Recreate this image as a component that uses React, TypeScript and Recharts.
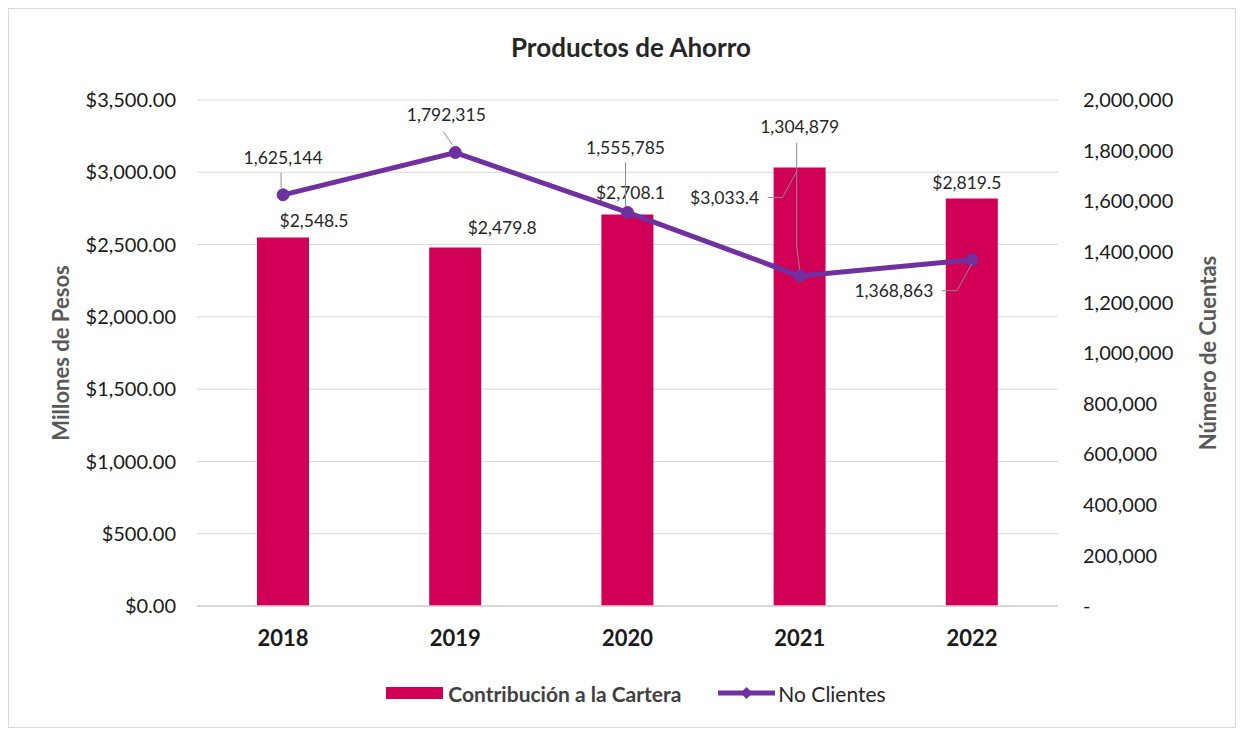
import React from 'react';
import { ComposedChart, Bar, Line, XAxis, YAxis, CartesianGrid, Legend, LabelList } from 'recharts';

const years = ['2018', '2019', '2020', '2021', '2022'];
const contribucion = [2548.5, 2479.8, 2708.1, 3033.4, 2819.5];
const clientes = [1625144, 1792315, 1555785, 1304879, 1368863];
const leftTicks = [0, 500, 1000, 1500, 2000, 2500, 3000, 3500];
const rightTicks = [0, 200000, 400000, 600000, 800000, 1000000, 1200000, 1400000, 1600000, 1800000, 2000000];

const data = years.map((y, i) => ({ year: y, contribucion: contribucion[i], clientes: clientes[i] }));

const FONT = 'Lato, "Open Sans", sans-serif';
const BAR_COLOR = '#D10056';
const LINE_COLOR = '#7030A0';
const LABEL_COLOR = '#262626';
const LABEL_SIZE = 17.5;

// label placement styling (offsets relative to the mark anchor) and leader lines
const barLabelStyle = [
  { dx: 31, dy: -17, leader: null },
  { dx: 47, dy: -20, leader: null },
  { dx: 3, dy: -22, leader: null },
  { dx: -75, dy: 30, leader: [[-32, 30], [-17, 30], [-3, 4]] },
  { dx: -5, dy: -16, leader: null },
];
const lineLabelStyle = [
  { dx: 0, dy: -37, leader: [[-2, -22], [-2, -7]] },
  { dx: -9, dy: -38, leader: [[-12, -21], [-3, -8]] },
  { dx: -2, dy: -65, leader: [[-2, -50], [-2, -6]] },
  { dx: 0, dy: -149, leader: [[-3, -133], [-3, -29], [0, -6]] },
  { dx: -78, dy: 31, leader: [[-30, 31], [-15, 31], [0, 4]] },
];

const fmtMoney = (v: number) => '$' + v.toLocaleString('en-US', { minimumFractionDigits: 2, maximumFractionDigits: 2 });
const fmtMoney1 = (v: number) => '$' + v.toLocaleString('en-US', { minimumFractionDigits: 1, maximumFractionDigits: 1 });
const fmtCount = (v: number) => (v === 0 ? '-' : v.toLocaleString('en-US'));

const renderLeader = (ax: number, ay: number, pts: number[][] | null) => {
  if (!pts) return null;
  const d = pts.map((p, i) => `${i === 0 ? 'M' : 'L'}${ax + p[0]},${ay + p[1]}`).join(' ');
  return <path d={d} stroke="#8c8c8c" strokeWidth={1} fill="none" />;
};

const BarLabel = (props: any) => {
  const { x, y, width, value, index } = props;
  const s = barLabelStyle[index];
  const ax = x + width / 2;
  const ay = y;
  return (
    <g>
      {renderLeader(ax, ay, s.leader)}
      <text x={ax + s.dx} y={ay + s.dy} textAnchor="middle" dominantBaseline="central" fontFamily={FONT} fontSize={LABEL_SIZE} fill={LABEL_COLOR}>
        {fmtMoney1(value)}
      </text>
    </g>
  );
};

const LineLabel = (props: any) => {
  const { x, y, value, index } = props;
  const s = lineLabelStyle[index];
  return (
    <g>
      {renderLeader(x, y, s.leader)}
      <text x={x + s.dx} y={y + s.dy} textAnchor="middle" dominantBaseline="central" fontFamily={FONT} fontSize={LABEL_SIZE} fill={LABEL_COLOR}>
        {fmtCount(value)}
      </text>
    </g>
  );
};

const LeftAxisTitle = (props: any) => {
  const { viewBox } = props;
  const cx = viewBox.x + 41;
  const cy = viewBox.y + viewBox.height / 2;
  return (
    <text x={cx} y={cy} transform={`rotate(-90, ${cx}, ${cy})`} textAnchor="middle" dominantBaseline="central" fontFamily={FONT} fontSize={22} fontWeight="bold" fill="#595959">
      Millones de Pesos
    </text>
  );
};

const RightAxisTitle = (props: any) => {
  const { viewBox } = props;
  const cx = viewBox.x + 149;
  const cy = viewBox.y + viewBox.height / 2;
  return (
    <text x={cx} y={cy} transform={`rotate(-90, ${cx}, ${cy})`} textAnchor="middle" dominantBaseline="central" fontFamily={FONT} fontSize={22} fontWeight="bold" fill="#595959">
      Número de Cuentas
    </text>
  );
};

const LegendContent = () => (
  <div style={{ display: 'flex', justifyContent: 'center', alignItems: 'center', height: 24, fontFamily: FONT, fontSize: 21, paddingLeft: 28 }}>
    <div style={{ display: 'flex', alignItems: 'center', marginRight: 37 }}>
      <svg width={57} height={14} style={{ marginRight: 5 }}>
        <rect x={0} y={1} width={57} height={12} fill={BAR_COLOR} />
      </svg>
      <span style={{ fontWeight: 'bold', color: '#404040' }}>Contribución a la Cartera</span>
    </div>
    <div style={{ display: 'flex', alignItems: 'center' }}>
      <svg width={57} height={14} style={{ marginRight: 3 }}>
        <line x1={0} y1={7} x2={57} y2={7} stroke={LINE_COLOR} strokeWidth={5} />
        <path d="M28.5,1 L34.5,7 L28.5,13 L22.5,7 Z" fill={LINE_COLOR} />
      </svg>
      <span style={{ color: '#262626' }}>No Clientes</span>
    </div>
  </div>
);

export default function App() {
  return (
    <div style={{ position: 'relative', width: 1228, height: 720, border: '1px solid #d9d9d9', boxSizing: 'border-box', background: '#fff' }}>
      <div style={{ position: 'absolute', left: 622, top: 23, transform: 'translateX(-50%)', fontFamily: FONT, fontSize: 26, fontWeight: 'bold', color: '#262626', whiteSpace: 'nowrap', lineHeight: '31px' }}>
        Productos de Ahorro
      </div>
      <ComposedChart width={1226} height={718} data={data} margin={{ top: 91, right: 10, bottom: 22, left: 10 }}>
        <CartesianGrid yAxisId="left" horizontal={true} vertical={false} stroke="#d9d9d9" />
        <XAxis dataKey="year" height={75} tickLine={false} tickSize={0} tickMargin={24} axisLine={{ stroke: '#d0d0d0', strokeWidth: 1.5 }} tick={{ fontFamily: FONT, fontSize: 22, fontWeight: 'bold', fill: '#1a1a1a' }} />
        <YAxis yAxisId="left" orientation="left" width={178} domain={[0, 3500]} ticks={leftTicks} tickFormatter={fmtMoney} axisLine={false} tickLine={false} tickSize={0} tickMargin={21} tick={{ fontFamily: FONT, fontSize: 20, fill: '#1a1a1a' }} label={<LeftAxisTitle />} />
        <YAxis yAxisId="right" orientation="right" width={167} domain={[0, 2000000]} ticks={rightTicks} tickFormatter={fmtCount} axisLine={false} tickLine={false} tickSize={0} tickMargin={25} tick={{ fontFamily: FONT, fontSize: 20, fill: '#1a1a1a' }} label={<RightAxisTitle />} />
        <Legend verticalAlign="bottom" align="center" content={<LegendContent />} />
        <Bar yAxisId="left" dataKey="contribucion" name="Contribución a la Cartera" fill={BAR_COLOR} barSize={52} isAnimationActive={false}>
          <LabelList dataKey="contribucion" content={<BarLabel />} />
        </Bar>
        <Line yAxisId="right" dataKey="clientes" name="No Clientes" stroke={LINE_COLOR} strokeWidth={5} dot={{ r: 6, fill: LINE_COLOR, stroke: LINE_COLOR, strokeWidth: 1 }} isAnimationActive={false}>
          <LabelList dataKey="clientes" content={<LineLabel />} />
        </Line>
      </ComposedChart>
    </div>
  );
}
